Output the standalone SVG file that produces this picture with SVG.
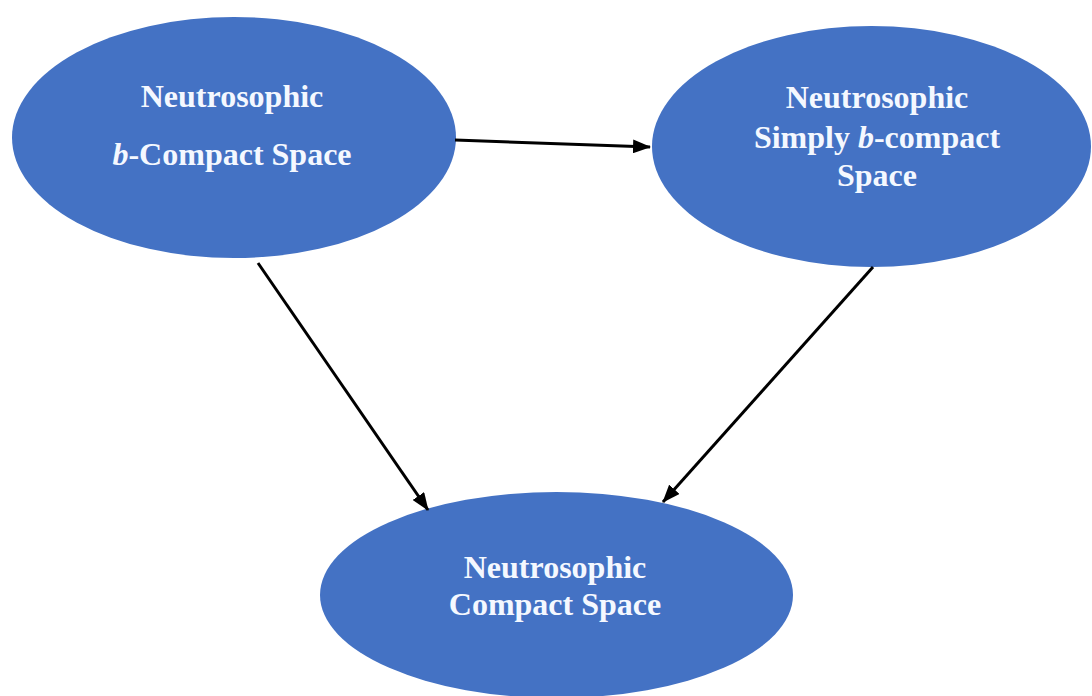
<svg xmlns="http://www.w3.org/2000/svg" width="1092" height="696" viewBox="0 0 1092 696">
<style>
.node{fill:#4472C4;}
.lbl{font-family:"Liberation Serif","Times New Roman",serif;font-weight:bold;font-size:32px;fill:#F4F8FF;text-anchor:middle;}
.edge{stroke:#000;stroke-width:3;fill:none;marker-end:url(#arr);}
</style>
<defs>
<marker id="arr" markerUnits="userSpaceOnUse" markerWidth="18" markerHeight="14" viewBox="0 0 18 14" refX="17" refY="7" orient="auto">
<path d="M0,0 L18,7 L0,14 Z" fill="#000"/>
</marker>
</defs>
<rect width="1092" height="696" fill="#fff"/>
<g id="n1">
<ellipse class="node" cx="234" cy="137.5" rx="222" ry="120.5"/>
<text class="lbl" x="232" y="107">Neutrosophic</text>
<text class="lbl" x="232" y="165"><tspan font-style="italic">b</tspan>-Compact Space</text>
</g>
<g id="n2">
<ellipse class="node" cx="871.5" cy="146.5" rx="219.5" ry="120.5"/>
<text class="lbl" x="877" y="108">Neutrosophic</text>
<text class="lbl" x="877" y="148">Simply <tspan font-style="italic">b</tspan>-compact</text>
<text class="lbl" x="877" y="186">Space</text>
</g>
<g id="n3">
<ellipse class="node" cx="556.5" cy="595" rx="236.5" ry="103"/>
<text class="lbl" x="555" y="578">Neutrosophic</text>
<text class="lbl" x="555" y="615">Compact Space</text>
</g>
<g id="connectors">
<line class="edge" x1="455" y1="140" x2="650" y2="147"/>
<line class="edge" x1="258" y1="263" x2="428" y2="510"/>
<line class="edge" x1="873" y1="267" x2="663" y2="502"/>
</g>
</svg>
